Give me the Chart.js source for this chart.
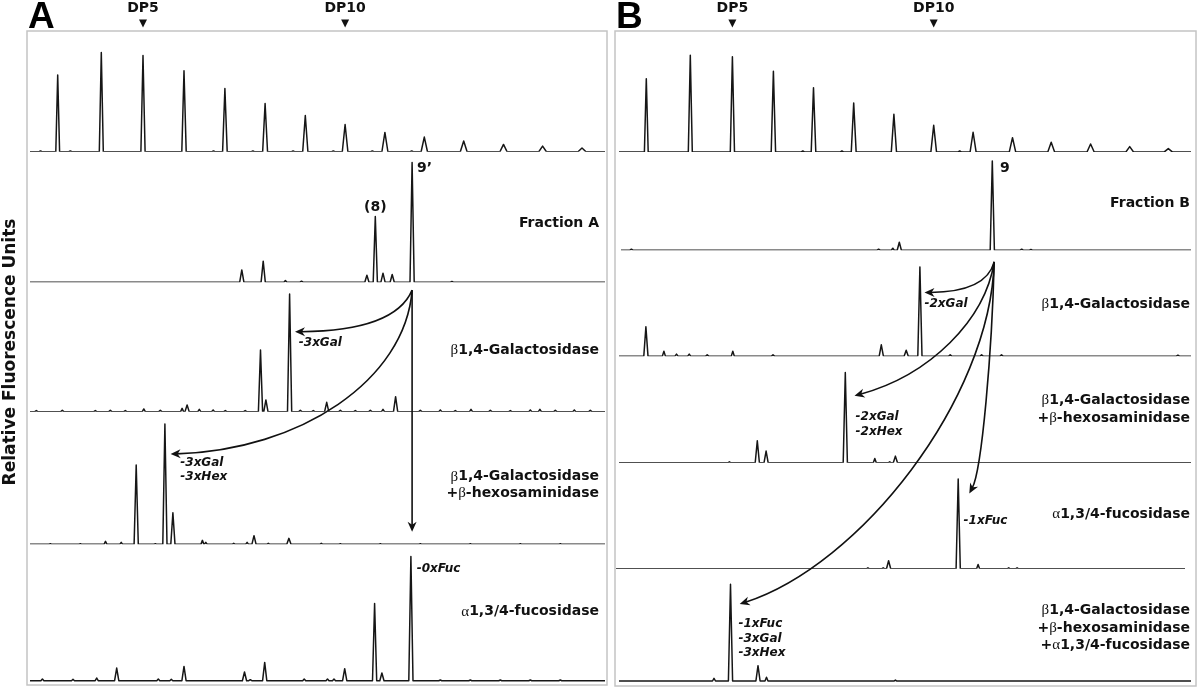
<!DOCTYPE html>
<html><head><meta charset="utf-8">
<script src="https://cdn.jsdelivr.net/npm/chart.js@4.4.1/dist/chart.umd.min.js"></script>
<style>
html,body{margin:0;padding:0;background:#fff;}
#wrap{position:relative;width:1200px;height:690px;overflow:hidden;background:#fff;}
#cA{position:absolute;left:0;top:0;}
#cB{position:absolute;left:610px;top:0;}
</style></head><body>
<div id="wrap"><canvas id="cA" width="610" height="690"></canvas><canvas id="cB" width="590" height="690"></canvas></div>
<script>
// ---------- DATA (x = retention, arbitrary units; h = relative fluorescence) ----------
const ladderLabels = ['DP5', 'DP10'];
const ladderLabelIndex = [2, 7];
const ladderWidth = [0.38, 0.40, 0.42, 0.44, 0.46, 0.49, 0.52, 0.56, 0.60, 0.64, 0.68, 0.72, 0.76, 0.80];

// Panel A
const ladderA_x = [3.07, 7.43, 11.60, 15.70, 19.79, 23.81, 27.83, 31.81, 35.79, 39.73, 43.67, 47.65, 51.56, 55.50];
const ladderA_h = [76.7, 99.3, 96.3, 81.0, 63.3, 48.3, 36.3, 27.3, 19.3, 14.7, 10.7, 7.3, 5.7, 3.7];
const ladderA_minor_x = [1.35, 4.33, 18.65, 22.59, 26.61, 30.63, 34.53, 38.47];
const ladderA_minor_h = [0.8, 0.8, 0.8, 0.8, 0.8, 0.8, 0.8, 0.8];

const fractionA_x = [21.48, 23.62, 25.84, 27.45, 33.99, 34.83, 35.60, 36.52, 38.51, 42.49];
const fractionA_h = [12.3, 21.0, 1.7, 1.0, 7.0, 65.7, 9.0, 7.7, 119.7, 0.7];

const galA_x = [0.93, 3.53, 6.83, 8.33, 9.83, 11.68, 13.33, 15.51, 16.01, 17.23, 18.61, 19.83, 21.82, 23.35, 23.89, 26.26, 27.33, 28.63, 29.97, 31.33, 32.83, 34.33, 35.60, 36.86, 39.33, 41.33, 42.83, 44.40, 46.33, 48.33, 50.33, 51.29, 52.83, 54.73, 56.33];
const galA_h = [1.0, 1.3, 1.0, 1.3, 1.0, 2.7, 1.3, 3.3, 6.7, 2.3, 1.7, 1.0, 1.0, 61.7, 11.7, 117.7, 1.3, 1.0, 9.3, 1.3, 1.0, 1.3, 2.3, 15.0, 1.3, 1.7, 1.0, 2.3, 1.3, 1.0, 1.7, 2.3, 1.3, 1.7, 1.3];

const galHexA_x = [2.33, 5.33, 7.85, 9.42, 10.92, 12.83, 13.79, 14.59, 17.54, 17.88, 20.67, 22.01, 22.70, 24.13, 26.19, 29.43, 31.33, 35.33, 39.33, 44.33, 49.33, 53.33];
const galHexA_h = [0.7, 0.7, 3.0, 2.0, 79.3, 0.7, 120.3, 31.7, 4.0, 2.0, 1.0, 2.0, 8.7, 1.0, 6.0, 1.0, 0.7, 0.7, 0.7, 0.7, 0.7, 0.7];

const fucA_x = [1.54, 4.60, 6.97, 8.97, 13.13, 14.43, 15.70, 21.75, 22.33, 23.77, 27.72, 30.05, 30.70, 31.77, 34.76, 35.49, 38.39, 41.33, 44.33, 47.33, 50.33, 53.33];
const fucA_h = [1.7, 1.3, 2.7, 12.7, 1.7, 1.3, 14.3, 8.7, 1.0, 18.3, 1.7, 1.7, 1.7, 12.0, 77.3, 7.7, 124.3, 0.7, 0.7, 0.7, 0.7, 0.7];

// Panel B
const ladderB_x = [3.13, 7.53, 11.74, 15.84, 19.85, 23.87, 27.89, 31.87, 35.81, 39.75, 43.62, 47.56, 51.47, 55.33];
const ladderB_h = [73.3, 96.7, 95.3, 80.7, 64.3, 49.0, 37.7, 26.7, 19.7, 14.3, 9.7, 8.0, 5.3, 3.3];
const ladderB_minor_x = [18.78, 22.69, 34.47];
const ladderB_minor_h = [1.0, 1.0, 1.0];

const fractionB_x = [1.64, 26.36, 27.78, 28.43, 37.73, 40.67, 41.59];
const fractionB_h = [1.0, 1.0, 2.0, 8.0, 89.3, 1.0, 0.7];

const galB_x = [3.09, 4.89, 6.15, 7.42, 9.22, 11.78, 15.80, 26.63, 29.12, 30.49, 33.52, 36.66, 38.65, 56.29];
const galB_h = [29.3, 5.0, 2.0, 2.0, 1.3, 5.0, 1.3, 11.3, 6.0, 89.3, 1.3, 1.3, 1.3, 1.0];

const galHexB_x = [11.44, 14.23, 15.11, 23.03, 25.98, 27.47, 28.04];
const galHexB_h = [1.0, 22.0, 11.7, 90.3, 4.3, 1.0, 6.7];

const fucB_x = [25.29, 26.82, 27.36, 34.32, 36.31, 39.37, 40.21];
const fucB_h = [1.0, 1.0, 8.0, 89.7, 4.3, 1.0, 1.0];

const allB_x = [9.90, 11.55, 14.30, 15.15, 28.04];
const allB_h = [2.7, 96.7, 15.3, 3.7, 1.0];

// ---------- helpers ----------
function buildTrace(groups, x0, x1) {
  const peaks = [];
  groups.forEach(g => g.x.forEach((c, i) => {
    const h = g.h[i];
    const w = g.w ? g.w[i] : (h > 5 ? 0.42 : 0.3);
    peaks.push({c, h, w});
  }));
  peaks.sort((a, b) => a.c - b.c);
  const pts = [{x: x0, y: 0}];
  peaks.forEach(p => {
    pts.push({x: p.c - p.w / 2, y: 0}, {x: p.c, y: p.h}, {x: p.c + p.w / 2, y: 0});
  });
  pts.push({x: x1, y: 0});
  return pts;
}

const BOLD = "bold 14px 'DejaVu Sans'";
const GREEK = "15px 'Liberation Serif'";
const ITAL = "italic bold 12px 'DejaVu Sans'";

function segsOf(str, font) {
  const segs = [];
  let cur = '', curGreek = null;
  for (const ch of str) {
    const g = (ch === 'α' || ch === 'β');
    if (curGreek !== null && g !== curGreek) { segs.push([cur, curGreek ? GREEK : font]); cur = ''; }
    cur += ch; curGreek = g;
  }
  if (cur) segs.push([cur, curGreek ? GREEK : font]);
  return segs;
}
function drawRich(ctx, str, font, x, y, align) {
  const segs = segsOf(str, font);
  let total = 0;
  segs.forEach(s => { ctx.font = s[1]; total += ctx.measureText(s[0]).width; });
  let cx = align === 'right' ? x - total : (align === 'center' ? x - total / 2 : x);
  ctx.textAlign = 'left';
  ctx.textBaseline = 'middle';
  segs.forEach(s => { ctx.font = s[1]; ctx.fillText(s[0], cx, y); cx += ctx.measureText(s[0]).width; });
}

function makePlugin(cfg) {
  return {
    id: 'figAnno' + cfg.letter,
    afterDatasetsDraw(chart) {
      const ctx = chart.ctx, a = chart.chartArea, xs = chart.scales.x;
      const P = p => [xs.getPixelForValue(p[0]), chart.scales[p[1]].getPixelForValue(p[2])];
      ctx.save();
      // frame
      ctx.strokeStyle = '#c4c4c4';
      ctx.lineWidth = 1.5;
      ctx.strokeRect(a.left, a.top, a.right - a.left, a.bottom - a.top);
      // panel letter
      ctx.fillStyle = '#000';
      ctx.font = "bold 37px 'Liberation Sans'";
      ctx.textAlign = 'left';
      ctx.textBaseline = 'alphabetic';
      ctx.fillText(cfg.letter, a.left + 1, 28);
      // DP markers
      ladderLabelIndex.forEach((idx, i) => {
        const px = xs.getPixelForValue(cfg.ladderX[idx]);
        ctx.font = BOLD;
        ctx.textAlign = 'center';
        ctx.textBaseline = 'middle';
        ctx.fillStyle = '#111';
        ctx.fillText(ladderLabels[i], px, 8.5);
        ctx.beginPath();
        ctx.moveTo(px - 4, 19.5); ctx.lineTo(px + 4, 19.5); ctx.lineTo(px, 27.5); ctx.closePath();
        ctx.fill();
      });
      // y title
      if (cfg.yTitle) {
        ctx.save();
        ctx.translate(11, 352);
        ctx.rotate(-Math.PI / 2);
        ctx.font = "bold 17px 'DejaVu Sans'";
        ctx.textAlign = 'center';
        ctx.textBaseline = 'middle';
        ctx.fillStyle = '#111';
        ctx.fillText(cfg.yTitle, 0, 0);
        ctx.restore();
      }
      // arrows
      ctx.strokeStyle = '#111';
      ctx.fillStyle = '#111';
      ctx.lineWidth = 1.6;
      cfg.arrows.forEach(ar => {
        const p = ar.map(P);
        const [ex, ey] = p[3];
        let dx = p[3][0] - p[2][0], dy = p[3][1] - p[2][1];
        if (Math.abs(dx) < 0.01 && Math.abs(dy) < 0.01) { dx = p[3][0] - p[0][0]; dy = p[3][1] - p[0][1]; }
        const L = Math.hypot(dx, dy); const ux = dx / L, uy = dy / L;
        const len = 10, hw = 4.5;
        ctx.beginPath();
        ctx.moveTo(p[0][0], p[0][1]);
        ctx.bezierCurveTo(p[1][0], p[1][1], p[2][0], p[2][1], ex - ux * 6, ey - uy * 6);
        ctx.stroke();
        const bx = ex - ux * len, by = ey - uy * len;
        ctx.beginPath();
        ctx.moveTo(ex, ey);
        ctx.lineTo(bx - uy * hw, by + ux * hw);
        ctx.lineTo(ex - ux * len * 0.7, ey - uy * len * 0.7);
        ctx.lineTo(bx + uy * hw, by - ux * hw);
        ctx.closePath();
        ctx.fill();
      });
      // enzyme labels (right aligned)
      ctx.fillStyle = '#111';
      cfg.rightLabels.forEach(l => {
        const y = chart.scales[l[0]].getPixelForValue(l[1]);
        drawRich(ctx, l[2], BOLD, a.right - cfg.labelInset, y, 'right');
      });
      // peak labels
      cfg.peakLabels.forEach(l => {
        const [x, y] = P([l[0], l[1], l[2]]);
        drawRich(ctx, l[3], l[5] === 'i' ? ITAL : BOLD, x, y, l[4]);
      });
      ctx.restore();
    }
  };
}

function makeChart(canvasId, cfg) {
  const scales = {
    x: {type: 'linear', display: false, min: 0, max: cfg.xMax}
  };
  cfg.bands.forEach(b => {
    scales[b.id] = {type: 'linear', display: false, position: 'right', stack: 'traces',
      stackWeight: b.max - b.min, min: b.min, max: b.max};
  });
  const datasets = cfg.traces.map(t => ({
    data: t.data, yAxisID: t.axis, xAxisID: 'x',
    borderColor: '#161616', borderWidth: 1.5, pointRadius: 0, fill: false, tension: 0,
    borderJoinStyle: 'round'
  }));
  return new Chart(document.getElementById(canvasId), {
    type: 'line',
    data: {datasets},
    options: {
      responsive: false, animation: false, events: [],
      layout: {padding: cfg.padding},
      plugins: {legend: {display: false}, tooltip: {enabled: false}},
      scales
    },
    plugins: [makePlugin(cfg)]
  });
}

// ---------- Panel A ----------
const xEndA = 57.8, xEndB = 57.6;
makeChart('cA', {
  letter: 'A', yTitle: 'Relative Fluorescence Units', xMax: 58, labelInset: 8,
  padding: {left: 27, top: 31, right: 3, bottom: 5},
  ladderX: ladderA_x,
  bands: [
    {id: 'yA1', min: 0, max: 120.8}, {id: 'yA2', min: 0, max: 130.5}, {id: 'yA3', min: 0, max: 129.5},
    {id: 'yA4', min: 0, max: 132.8}, {id: 'yA5', min: -4.3, max: 136.4}
  ],
  traces: [
    {axis: 'yA1', data: buildTrace([{x: ladderA_x, h: ladderA_h, w: ladderWidth}, {x: ladderA_minor_x, h: ladderA_minor_h}], 0.3, xEndA)},
    {axis: 'yA2', data: buildTrace([{x: fractionA_x, h: fractionA_h}], 0.3, xEndA)},
    {axis: 'yA3', data: buildTrace([{x: galA_x, h: galA_h}], 0.3, xEndA)},
    {axis: 'yA4', data: buildTrace([{x: galHexA_x, h: galHexA_h}], 0.3, xEndA)},
    {axis: 'yA5', data: buildTrace([{x: fucA_x, h: fucA_h}], 0.3, xEndA)}
  ],
  arrows: [
    [[38.51, 'yA2', -8], [37.33, 'yA3', 93.5], [33.33, 'yA3', 80.5], [26.80, 'yA3', 79.8]],
    [[38.51, 'yA2', -8], [37.83, 'yA4', 164.3], [27.33, 'yA4', 94.3], [14.36, 'yA4', 90.3]],
    [[38.51, 'yA2', -8], [38.51, 'yA4', 100], [38.51, 'yA4', 50], [38.51, 'yA4', 12.6]]
  ],
  rightLabels: [
    ['yA2', 59, 'Fraction A'],
    ['yA3', 61.5, 'β1,4-Galactosidase'],
    ['yA4', 67.6, 'β1,4-Galactosidase'],
    ['yA4', 51, '+β-hexosaminidase'],
    ['yA5', 69, 'α1,3/4-fucosidase']
  ],
  peakLabels: [
    [34.83, 'yA2', 75, '(8)', 'center', 'b'],
    [39.0, 'yA2', 114, '9’', 'left', 'b'],
    [27.18, 'yA3', 68.8, '-3xGal', 'left', 'i'],
    [15.33, 'yA4', 81.3, '-3xGal', 'left', 'i'],
    [15.33, 'yA4', 67.3, '-3xHex', 'left', 'i'],
    [38.97, 'yA5', 111.4, '-0xFuc', 'left', 'i']
  ]
});

// ---------- Panel B ----------
makeChart('cB', {
  letter: 'B', yTitle: null, xMax: 58.1, labelInset: 6,
  padding: {left: 5, top: 31, right: 4, bottom: 4},
  ladderX: ladderB_x,
  bands: [
    {id: 'yB1', min: 0, max: 121}, {id: 'yB2', min: 0, max: 98.3}, {id: 'yB3', min: 0, max: 106},
    {id: 'yB4', min: 0, max: 106.7}, {id: 'yB5', min: 0, max: 106}, {id: 'yB6', min: -5, max: 112.3}
  ],
  traces: [
    {axis: 'yB1', data: buildTrace([{x: ladderB_x, h: ladderB_h, w: ladderWidth}, {x: ladderB_minor_x, h: ladderB_minor_h}], 0.4, xEndB)},
    {axis: 'yB2', data: buildTrace([{x: fractionB_x, h: fractionB_h}], 0.6, xEndB)},
    {axis: 'yB3', data: buildTrace([{x: galB_x, h: galB_h}], 0.4, xEndB)},
    {axis: 'yB4', data: buildTrace([{x: galHexB_x, h: galHexB_h}], 0.4, xEndB)},
    {axis: 'yB5', data: buildTrace([{x: fucB_x, h: fucB_h}], 0.1, 57.0)},
    {axis: 'yB6', data: buildTrace([{x: allB_x, h: allB_h}], 0.4, xEndB)}
  ],
  arrows: [
    [[37.92, 'yB2', -11.7], [37.3, 'yB3', 71], [34.5, 'yB3', 64], [30.95, 'yB3', 63.7]],
    [[37.92, 'yB2', -11.7], [37.0, 'yB4', 142.7], [31.5, 'yB4', 87.7], [23.95, 'yB4', 67]],
    [[37.92, 'yB2', -11.7], [37.5, 'yB6', 281], [24.5, 'yB6', 116], [12.47, 'yB6', 77]],
    [[37.92, 'yB2', -11.7], [37.7, 'yB5', 218.7], [36.7, 'yB5', 98.7], [35.43, 'yB5', 75.4]]
  ],
  rightLabels: [
    ['yB2', 47, 'Fraction B'],
    ['yB3', 52, 'β1,4-Galactosidase'],
    ['yB4', 62.7, 'β1,4-Galactosidase'],
    ['yB4', 44.7, '+β-hexosaminidase'],
    ['yB5', 54.7, 'α1,3/4-fucosidase'],
    ['yB6', 71, 'β1,4-Galactosidase'],
    ['yB6', 52.7, '+β-hexosaminidase'],
    ['yB6', 36, '+α1,3/4-fucosidase']
  ],
  peakLabels: [
    [38.5, 'yB2', 82, '9', 'left', 'b'],
    [30.95, 'yB3', 52, '-2xGal', 'left', 'i'],
    [24.06, 'yB4', 46, '-2xGal', 'left', 'i'],
    [24.06, 'yB4', 31, '-2xHex', 'left', 'i'],
    [34.86, 'yB5', 48, '-1xFuc', 'left', 'i'],
    [12.35, 'yB6', 56.7, '-1xFuc', 'left', 'i'],
    [12.35, 'yB6', 42, '-3xGal', 'left', 'i'],
    [12.35, 'yB6', 27.7, '-3xHex', 'left', 'i']
  ]
});
</script>
</body></html>
